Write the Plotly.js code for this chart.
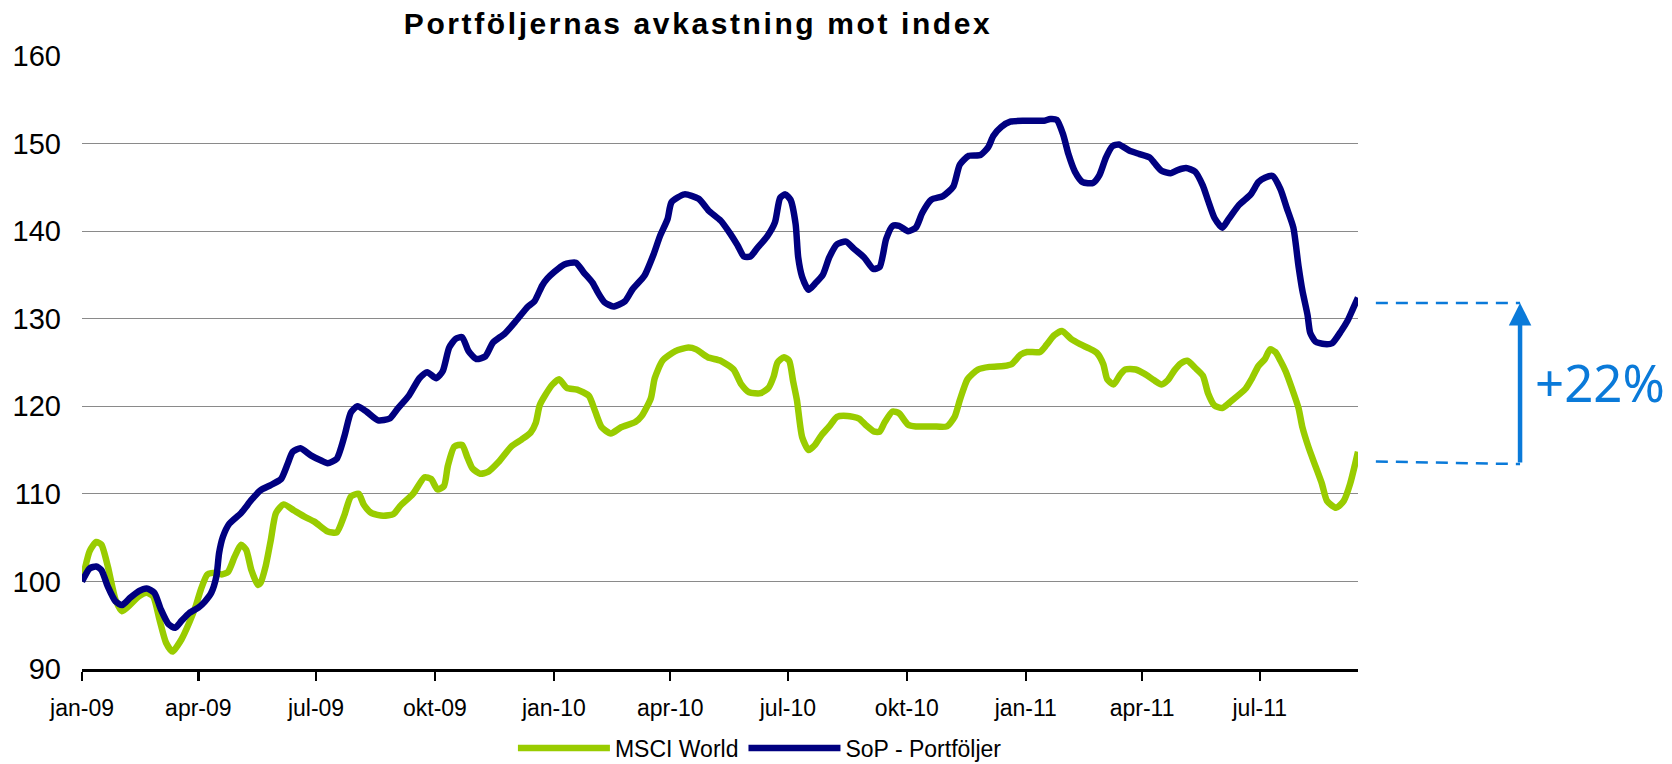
<!DOCTYPE html>
<html>
<head>
<meta charset="utf-8">
<script src="https://cdn.plot.ly/plotly-3.0.1.min.js"></script>
<style>
html,body{margin:0;padding:0;background:#fff;}
#chart{width:1672px;height:764px;}
#chart .gtitle{letter-spacing:2.6px;}
</style>
</head>
<body>
<div id="chart"></div>
<script>
var msciDates = ['2009-01-01','2009-01-07','2009-01-12','2009-01-16','2009-01-21','2009-01-27','2009-02-01','2009-02-07','2009-02-14','2009-02-20','2009-02-25','2009-03-02','2009-03-07','2009-03-12','2009-03-19','2009-03-25','2009-03-30','2009-04-03','2009-04-08','2009-04-14','2009-04-19','2009-04-24','2009-04-29','2009-05-04','2009-05-08','2009-05-12','2009-05-17','2009-05-19','2009-05-23','2009-05-27','2009-05-31','2009-06-06','2009-06-14','2009-06-22','2009-06-30','2009-07-10','2009-07-17','2009-07-23','2009-07-28','2009-08-03','2009-08-07','2009-08-13','2009-08-22','2009-08-30','2009-09-04','2009-09-14','2009-09-23','2009-09-28','2009-10-03','2009-10-08','2009-10-11','2009-10-16','2009-10-22','2009-10-26','2009-10-30','2009-11-05','2009-11-11','2009-11-19','2009-11-29','2009-12-07','2009-12-14','2009-12-18','2009-12-21','2009-12-25','2009-12-31','2010-01-05','2010-01-11','2010-01-19','2010-01-28','2010-02-02','2010-02-07','2010-02-14','2010-02-22','2010-03-05','2010-03-10','2010-03-17','2010-03-20','2010-03-26','2010-04-05','2010-04-15','2010-04-21','2010-04-30','2010-05-10','2010-05-20','2010-05-26','2010-06-01','2010-06-10','2010-06-16','2010-06-20','2010-06-23','2010-06-28','2010-07-02','2010-07-05','2010-07-08','2010-07-12','2010-07-17','2010-07-22','2010-07-27','2010-08-02','2010-08-08','2010-08-16','2010-08-25','2010-08-30','2010-09-06','2010-09-10','2010-09-14','2010-09-20','2010-09-25','2010-10-02','2010-10-08','2010-10-21','2010-11-01','2010-11-07','2010-11-11','2010-11-17','2010-11-25','2010-12-04','2010-12-15','2010-12-21','2010-12-28','2011-01-02','2011-01-12','2011-01-17','2011-01-23','2011-01-29','2011-02-05','2011-02-12','2011-02-19','2011-02-25','2011-03-02','2011-03-05','2011-03-10','2011-03-15','2011-03-19','2011-03-27','2011-04-03','2011-04-10','2011-04-16','2011-04-21','2011-04-26','2011-05-01','2011-05-06','2011-05-12','2011-05-18','2011-05-22','2011-05-27','2011-06-02','2011-06-09','2011-06-20','2011-06-25','2011-06-30','2011-07-05','2011-07-09','2011-07-13','2011-07-17','2011-07-21','2011-07-26','2011-07-31','2011-08-03','2011-08-08','2011-08-13','2011-08-18','2011-08-22','2011-08-29','2011-09-04','2011-09-09','2011-09-15'];
var msciValues = [100.0,103.5,104.5,104.2,101.7,97.9,96.6,97.3,98.3,98.7,98.3,95.6,93.0,92.0,93.4,95.3,97.2,99.1,100.8,101.0,100.8,101.1,102.8,104.2,103.6,101.3,99.6,99.8,101.7,104.7,107.8,108.8,108.1,107.4,106.8,105.7,105.6,107.6,109.7,110.0,108.75,107.8,107.5,107.7,108.6,110.0,111.9,111.7,110.5,110.9,113.2,115.4,115.6,114.2,112.9,112.3,112.5,113.6,115.4,116.2,117.0,118.1,120.1,121.2,122.5,123.1,122.1,121.9,121.2,119.4,117.6,116.9,117.6,118.2,118.9,120.9,123.2,125.2,126.3,126.7,126.5,125.6,125.2,124.2,122.5,121.6,121.5,122.1,123.4,125.0,125.6,125.2,122.9,120.7,116.5,115.0,115.6,116.7,117.7,118.8,118.9,118.6,117.9,117.1,117.1,118.2,119.4,119.2,117.9,117.7,117.7,117.7,118.8,120.7,123.1,124.2,124.5,124.6,124.8,125.9,126.2,126.2,127.0,128.1,128.6,127.7,127.1,126.6,126.1,124.8,123.1,122.5,123.6,124.2,124.2,123.7,123.0,122.5,123.0,124.1,124.9,125.2,124.4,123.5,121.5,120.1,119.8,120.6,122.0,123.2,124.6,125.4,126.5,126.2,125.2,124.0,122.0,119.8,117.6,115.2,113.2,111.2,109.2,108.4,109.2,111.2,114.8];

var sopDates = ['2009-01-01','2009-01-07','2009-01-12','2009-01-16','2009-01-21','2009-01-27','2009-02-01','2009-02-07','2009-02-14','2009-02-20','2009-02-26','2009-03-03','2009-03-09','2009-03-14','2009-03-19','2009-03-25','2009-04-01','2009-04-06','2009-04-11','2009-04-15','2009-04-17','2009-04-20','2009-04-25','2009-05-04','2009-05-12','2009-05-19','2009-05-27','2009-06-04','2009-06-09','2009-06-13','2009-06-19','2009-06-27','2009-07-05','2009-07-10','2009-07-17','2009-07-23','2009-07-28','2009-08-02','2009-08-09','2009-08-18','2009-08-27','2009-09-02','2009-09-11','2009-09-19','2009-09-25','2009-10-02','2009-10-07','2009-10-12','2009-10-17','2009-10-22','2009-10-27','2009-11-02','2009-11-09','2009-11-15','2009-11-24','2009-12-03','2009-12-12','2009-12-17','2009-12-23','2009-12-27','2010-01-01','2010-01-09','2010-01-18','2010-01-24','2010-01-31','2010-02-04','2010-02-09','2010-02-16','2010-02-25','2010-03-03','2010-03-12','2010-03-19','2010-03-24','2010-03-30','2010-04-02','2010-04-12','2010-04-23','2010-05-01','2010-05-10','2010-05-17','2010-05-23','2010-05-28','2010-06-02','2010-06-07','2010-06-15','2010-06-21','2010-06-25','2010-06-29','2010-07-03','2010-07-07','2010-07-09','2010-07-12','2010-07-17','2010-07-22','2010-07-28','2010-08-02','2010-08-08','2010-08-15','2010-08-21','2010-08-29','2010-09-05','2010-09-10','2010-09-15','2010-09-20','2010-09-25','2010-10-02','2010-10-08','2010-10-13','2010-10-20','2010-10-29','2010-11-06','2010-11-11','2010-11-18','2010-11-27','2010-12-03','2010-12-07','2010-12-13','2010-12-20','2010-12-31','2011-01-10','2011-01-15','2011-01-20','2011-01-25','2011-01-30','2011-02-03','2011-02-08','2011-02-14','2011-02-22','2011-02-27','2011-03-04','2011-03-09','2011-03-14','2011-03-22','2011-03-30','2011-04-07','2011-04-11','2011-04-16','2011-04-23','2011-04-29','2011-05-05','2011-05-12','2011-05-18','2011-05-22','2011-05-27','2011-06-02','2011-06-07','2011-06-15','2011-06-24','2011-06-30','2011-07-05','2011-07-11','2011-07-17','2011-07-22','2011-07-27','2011-07-31','2011-08-03','2011-08-07','2011-08-09','2011-08-13','2011-08-20','2011-08-26','2011-09-02','2011-09-07','2011-09-11','2011-09-15'];
var sopValues = [100.0,101.5,101.7,101.3,99.4,97.7,97.3,98.1,98.9,99.2,98.7,96.8,95.1,94.7,95.5,96.4,97.0,97.7,98.7,100.6,103.2,105.1,106.6,107.8,109.3,110.4,111.0,111.7,113.4,114.8,115.2,114.4,113.8,113.5,114.0,116.6,119.3,120.0,119.4,118.4,118.6,119.7,121.25,123.2,123.9,123.2,124.0,126.7,127.7,127.9,126.3,125.4,125.7,127.3,128.3,129.8,131.4,132.0,133.8,134.6,135.3,136.2,136.4,135.3,134.1,133.0,131.9,131.4,132.0,133.4,134.9,137.3,139.4,141.4,143.3,144.2,143.7,142.3,141.2,139.8,138.4,137.1,137.1,138.0,139.4,141.0,143.8,144.2,143.6,140.8,137.0,134.8,133.3,134.0,135.0,137.0,138.5,138.8,138.0,137.0,135.7,135.9,139.1,140.6,140.6,140.0,140.4,142.1,143.6,144.0,145.1,147.6,148.6,148.7,149.6,150.9,151.9,152.5,152.6,152.6,152.6,152.8,152.7,151.0,148.8,146.8,145.6,145.5,146.4,148.4,149.7,149.9,149.2,148.8,148.4,147.7,146.9,146.6,147.0,147.2,146.8,145.2,143.5,141.5,140.4,141.4,143.0,144.2,145.6,146.1,146.3,144.8,142.6,140.4,136.0,133.2,130.4,128.4,127.4,127.1,127.2,128.6,129.8,131.1,132.4];

var tickDates = ['2009-01-01','2009-04-01','2009-07-01','2009-10-01','2010-01-01','2010-04-01','2010-07-01','2010-10-01','2011-01-01','2011-04-01','2011-07-01'];
var tickLabels = ['jan-09','apr-09','jul-09','okt-09','jan-10','apr-10','jul-10','okt-10','jan-11','apr-11','jul-11'];
var yTicks = [90,100,110,120,130,140,150,160];

var seriesNames = ['MSCI World','SoP - Portföljer'];
var seriesColors = ['#99CC00','#000080'];

var gapTop = 131.8;     // level of portfolio at end (dashed line)
var gapBottom = 113.7;  // level of index at end (dashed line)
var gapLabel = '+22%';
var accent = '#0A7AD9';

var traces = [
  {x: msciDates, y: msciValues, name: seriesNames[0], type: 'scatter', mode: 'lines',
   line: {color: seriesColors[0], width: 6.5, shape: 'spline', smoothing: 0.6}},
  {x: sopDates, y: sopValues, name: seriesNames[1], type: 'scatter', mode: 'lines',
   line: {color: seriesColors[1], width: 6.5, shape: 'spline', smoothing: 0.6}}
];

var layout = {
  width: 1672, height: 764,
  margin: {l: 82, r: 314, t: 56, b: 95, autoexpand: false},
  paper_bgcolor: '#ffffff', plot_bgcolor: '#ffffff',
  font: {family: 'Liberation Sans, Arial, sans-serif', color: '#000'},
  title: {text: '<b>Portföljernas avkastning mot index</b>', font: {size: 30, family: 'Liberation Sans, Arial, sans-serif', color: '#000'},
          x: 0.4175, xref: 'container', xanchor: 'center', y: 0.969, yref: 'container', yanchor: 'middle'},
  showlegend: true,
  legend: {orientation: 'h', x: 0.4545, xref: 'container', xanchor: 'center', y: 0.021, yref: 'container', yanchor: 'middle',
           font: {size: 23}, itemwidth: 92, traceorder: 'normal'},
  xaxis: {type: 'date', range: ['2009-01-01','2011-09-15'], tickmode: 'array', tickvals: tickDates, ticktext: tickLabels,
          showgrid: false, zeroline: false, showline: true, linecolor: '#000', linewidth: 3,
          ticks: 'outside', ticklen: 9, tickwidth: 2.5, tickcolor: '#000',
          tickfont: {size: 23, color: '#000'}, ticklabelstandoff: 7, fixedrange: true},
  yaxis: {range: [90, 160], tickmode: 'array', tickvals: yTicks, ticktext: yTicks.map(String),
          showgrid: true, gridcolor: '#8a8a8a', gridwidth: 1.2, zeroline: false, showline: false,
          ticks: '', tickfont: {size: 29, color: '#000'}, ticklabelstandoff: 20, fixedrange: true},
  shapes: [
    {type: 'line', xref: 'paper', yref: 'y', x0: 1.014, x1: 1.127, y0: gapTop, y1: gapTop,
     line: {color: accent, width: 2.5, dash: '12px,8px'}},
    {type: 'line', xref: 'paper', yref: 'y', x0: 1.014, x1: 1.127, y0: gapBottom, y1: gapBottom - 0.3,
     line: {color: accent, width: 2.5, dash: '12px,8px'}}
  ],
  annotations: [
    {xref: 'paper', yref: 'y', x: 1.127, y: gapTop, axref: 'paper', ayref: 'y', ax: 1.127, ay: gapBottom - 0.3,
     text: '', showarrow: true, arrowhead: 2, arrowsize: 1, arrowwidth: 4.5, arrowcolor: accent},
    {xref: 'paper', yref: 'y', x: 1.137, y: 122.8, xanchor: 'left', yanchor: 'middle',
     text: gapLabel, showarrow: false, font: {family: 'Noto Sans, sans-serif', size: 51, color: accent}}
  ]
};

Plotly.newPlot('chart', traces, layout, {displayModeBar: false, staticPlot: true});
</script>
</body>
</html>
